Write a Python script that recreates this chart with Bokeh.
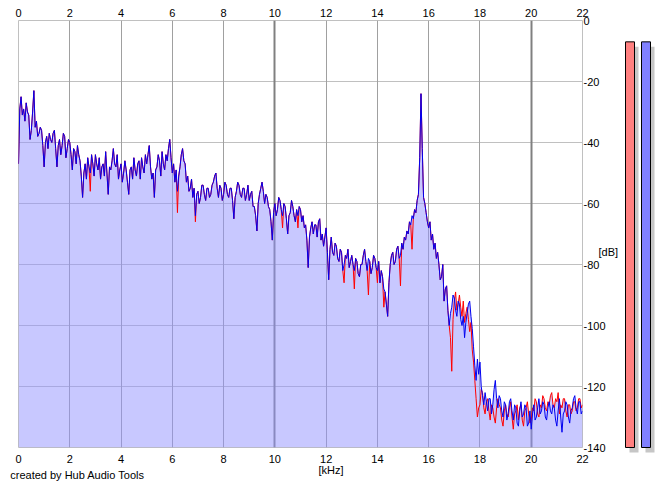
import numpy as np
from bokeh.plotting import figure
from bokeh.models import FixedTicker, LinearAxis, Grid, Range1d
from bokeh.layouts import row
from bokeh.embed import file_html
from bokeh.resources import INLINE

# ---------------- data ----------------
freq_khz = np.linspace(0, 22, 441)  # 0.05 kHz bins

blue_db = [
    -47, -29, -25, -31, -29, -33, -27, -30, -31, -39, -36, -30, -23, -35, -33, -38, -37, -35, -36, -41,
    -48, -40, -38, -42, -37, -39, -40, -37, -36, -42, -48, -41, -39, -44, -41, -37, -38, -45, -42, -39,
    -40, -44, -49, -42, -43, -47, -41, -44, -46, -51, -58, -50, -47, -52, -45, -48, -50, -44, -47, -51,
    -44, -47, -49, -45, -52, -48, -47, -51, -43, -50, -57, -48, -49, -46, -42, -47, -48, -44, -52, -49,
    -47, -53, -50, -46, -49, -53, -57, -49, -48, -52, -45, -49, -51, -47, -46, -52, -45, -48, -50, -44,
    -47, -44, -41, -48, -52, -50, -58, -49, -48, -44, -46, -51, -43, -47, -49, -44, -46, -42, -39, -45,
    -50, -47, -53, -49, -56, -51, -48, -44, -42, -46, -47, -53, -51, -56, -55, -52, -58, -55, -64, -57,
    -56, -60, -58, -54, -54, -57, -59, -55, -55, -58, -57, -54, -53, -51, -50, -55, -58, -54, -55, -59,
    -57, -53, -54, -57, -58, -55, -55, -59, -65, -58, -56, -53, -54, -57, -58, -55, -55, -59, -57, -54,
    -59, -57, -56, -61, -61, -64, -69, -60, -57, -55, -53, -56, -60, -57, -58, -61, -62, -66, -72, -63,
    -60, -64, -62, -58, -59, -62, -64, -60, -61, -65, -70, -64, -63, -59, -61, -64, -66, -62, -64, -61,
    -62, -66, -64, -68, -67, -72, -81, -71, -68, -66, -70, -67, -67, -71, -66, -65, -72, -70, -74, -71,
    -68, -76, -85, -75, -71, -76, -77, -73, -74, -78, -79, -75, -76, -82, -80, -77, -78, -75, -81, -79,
    -77, -80, -82, -78, -79, -83, -84, -80, -80, -77, -75, -79, -82, -78, -79, -83, -81, -77, -78, -81,
    -82, -79, -86, -82, -84, -88, -89, -93, -97, -86, -80, -77, -76, -80, -79, -75, -74, -78, -77, -73,
    -75, -71, -72, -69, -70, -66, -67, -64, -65, -62, -63, -59, -57, -45, -24, -42, -58, -60, -63, -66,
    -68, -66, -72, -70, -75, -73, -78, -76, -80, -85, -84, -80, -92, -88, -87, -95, -100, -96, -94, -90,
    -91, -95, -97, -92, -93, -98, -100, -97, -104, -99, -96, -93, -92, -97, -101, -107, -113, -118, -111, -116,
    -112, -120, -123, -126, -122, -125, -128, -124, -124, -129, -126, -121, -118, -124, -127, -123, -124, -128, -130, -125,
    -126, -131, -129, -125, -124, -128, -131, -126, -127, -132, -133, -128, -125, -130, -129, -126, -127, -133, -132, -128,
    -134, -129, -126, -131, -130, -127, -124, -129, -128, -125, -126, -130, -131, -127, -125, -128, -129, -126, -127, -131,
    -133, -128, -124, -130, -135, -129, -128, -125, -126, -130, -132, -128, -127, -124, -123, -127, -129, -125, -125, -129,
    -128,
]

red_db = [
    -47, -29, -25, -31, -29, -33, -27, -30, -31, -39, -36, -30, -23, -35, -33, -38, -37, -35, -36, -41,
    -48, -40, -38, -42, -37, -39, -40, -37, -36, -42, -48, -41, -39, -44, -41, -37, -38, -45, -42, -39,
    -40, -44, -49, -42, -43, -47, -41, -44, -46, -51, -58, -50, -47, -52, -45, -48, -56, -44, -47, -51,
    -44, -47, -49, -45, -52, -48, -47, -51, -43, -50, -57, -48, -49, -46, -42, -47, -48, -44, -52, -49,
    -47, -53, -50, -46, -49, -53, -57, -49, -48, -52, -45, -49, -51, -47, -46, -52, -45, -48, -50, -44,
    -47, -44, -41, -48, -52, -50, -58, -49, -48, -44, -46, -51, -43, -47, -49, -44, -46, -42, -39, -45,
    -50, -47, -53, -49, -63, -51, -48, -44, -42, -46, -47, -53, -51, -56, -55, -52, -58, -55, -66, -57,
    -56, -60, -58, -54, -54, -57, -59, -55, -55, -58, -57, -54, -53, -51, -50, -55, -58, -54, -55, -59,
    -57, -53, -54, -57, -58, -55, -55, -59, -65, -58, -56, -53, -54, -57, -58, -55, -55, -59, -57, -54,
    -59, -57, -56, -61, -61, -64, -69, -60, -57, -55, -53, -56, -60, -57, -58, -61, -62, -66, -72, -63,
    -60, -64, -62, -58, -59, -62, -68, -60, -61, -65, -70, -64, -63, -59, -61, -64, -66, -62, -68, -61,
    -62, -66, -64, -68, -67, -72, -81, -71, -68, -66, -70, -67, -67, -71, -66, -65, -72, -70, -74, -71,
    -68, -76, -85, -75, -71, -76, -77, -73, -74, -78, -79, -75, -76, -82, -86, -77, -78, -75, -81, -79,
    -77, -80, -88, -78, -79, -83, -84, -80, -80, -77, -75, -79, -82, -90, -79, -83, -81, -77, -78, -81,
    -86, -79, -86, -82, -84, -94, -89, -93, -97, -86, -80, -77, -76, -80, -79, -75, -74, -78, -87, -73,
    -75, -71, -72, -69, -70, -66, -67, -75, -65, -62, -63, -59, -57, -45, -24, -42, -58, -60, -63, -66,
    -68, -66, -72, -70, -75, -73, -78, -76, -80, -85, -84, -80, -92, -88, -87, -95, -100, -104, -115, -98,
    -92, -89, -95, -93, -90, -94, -97, -92, -99, -96, -94, -98, -102, -99, -108, -112, -118, -124, -130, -127,
    -126, -121, -122, -127, -129, -125, -124, -128, -131, -126, -127, -130, -132, -127, -124, -126, -127, -131, -133, -128,
    -126, -129, -130, -127, -125, -130, -134, -129, -128, -126, -131, -127, -126, -131, -133, -128, -127, -125, -129, -132,
    -131, -127, -128, -124, -125, -129, -130, -126, -127, -123, -124, -127, -128, -125, -126, -123, -122, -126, -127, -124,
    -125, -122, -129, -126, -127, -124, -124, -128, -130, -126, -126, -129, -128, -125, -125, -128, -127, -124, -124, -127,
    -126,
]

x_ticks = [0, 2, 4, 6, 8, 10, 12, 14, 16, 18, 20, 22]
x_tick_labels = ["0", "2", "4", "6", "8", "10", "12", "14", "16", "18", "20", "22"]
y_ticks = [0, -20, -40, -60, -80, -100, -120, -140]
y_tick_labels = ["0", "-20", "-40", "-60", "-80", "-100", "-120", "-140"]

x_unit_label = "[kHz]"
y_unit_label = "[dB]"
credit_text = "created by Hub Audio Tools"

meter_levels_db = [-7, -7]          # left channel (red), right channel (blue)

# ---------------- styling ----------------
FONT = "Liberation Sans"
FS = "11px"
PX_PER_DB = 427 / 140.0
PX_PER_KHZ = 564 / 22.0

p = figure(
    frame_width=564, frame_height=427,
    x_range=Range1d(0, 22), y_range=Range1d(-140, 0),
    x_axis_location=None, y_axis_location=None,
    min_border_left=18, min_border_right=38,
    min_border_top=20, min_border_bottom=40,
    toolbar_location=None, output_backend="svg",
    background_fill_color="white", border_fill_color="white",
    outline_line_color="#C0C0C0",
)
p.grid.visible = False

p.add_layout(Grid(dimension=1, ticker=FixedTicker(ticks=[-20, -40, -60, -80, -100, -120]),
                  grid_line_color="#C0C0C0", grid_line_width=1))
p.add_layout(Grid(dimension=0, ticker=FixedTicker(ticks=[2, 4, 6, 8, 12, 14, 16, 18]),
                  grid_line_color="#A0A0A0", grid_line_width=1))
p.add_layout(Grid(dimension=0, ticker=FixedTicker(ticks=[10, 20]),
                  grid_line_color="#808080", grid_line_width=2))
p.add_layout(Grid(dimension=0, ticker=FixedTicker(ticks=[0]),
                  grid_line_color="#808080", grid_line_width=3))


def make_axis(ticks, labels, standoff):
    return LinearAxis(
        ticker=FixedTicker(ticks=ticks),
        major_label_overrides={t: s for t, s in zip(ticks, labels)},
        axis_line_color=None, major_tick_line_color=None, minor_tick_line_color=None,
        major_tick_out=0, major_tick_in=0,
        major_label_standoff=standoff,
        major_label_text_font=FONT, major_label_text_font_size=FS,
        major_label_text_color="black",
    )


p.add_layout(make_axis(x_ticks, x_tick_labels, 4), "above")
p.add_layout(make_axis(x_ticks, x_tick_labels, 7), "below")
p.add_layout(make_axis(y_ticks, y_tick_labels, 1), "right")

# unit / credit texts placed as single-label axes outside the frame
kHz_pos = (330.5 - 18) / PX_PER_KHZ
credit_pos = (77 - 18) / PX_PER_KHZ
dB_pos = -(251 - 20) / PX_PER_DB
p.add_layout(make_axis([kHz_pos], [x_unit_label], -2), "below")
p.add_layout(make_axis([credit_pos], [credit_text], -10), "below")
p.add_layout(make_axis([dB_pos], [y_unit_label], -10), "right")

envelope = np.maximum(np.array(blue_db), np.array(red_db))
p.varea(x=freq_khz, y1=-140, y2=envelope, fill_color="#9191FF", fill_alpha=0.5)
p.line(freq_khz, red_db, line_color="#FF0000", line_width=1)
p.line(freq_khz, blue_db, line_color="#0000F0", line_width=1)

# ---------------- level meters ----------------
extra_db = 10 / PX_PER_DB
m = figure(
    frame_width=44, frame_height=437,
    x_range=Range1d(0, 44), y_range=Range1d(-140 - extra_db, 0),
    x_axis_location=None, y_axis_location=None,
    min_border_left=0, min_border_right=0,
    min_border_top=20, min_border_bottom=30,
    toolbar_location=None, output_backend="svg",
    background_fill_color="white", border_fill_color="white",
    outline_line_color=None,
)
m.grid.visible = False

bar_left = [4, 20]
bar_right = [13, 29]
shift_x = 4
shift_db = 5 / PX_PER_DB
m.quad(left=[b + shift_x for b in bar_left], right=[b + shift_x for b in bar_right],
       top=[v - shift_db for v in meter_levels_db], bottom=-140 - shift_db,
       fill_color="#C6C6C6", line_color=None)
m.quad(left=bar_left, right=bar_right, top=meter_levels_db, bottom=-140,
       fill_color=["#FF8080", "#8080FF"], line_color="black", line_width=1)

layout = row(p, m)
open("out.html", "w").write(file_html(layout, INLINE))
